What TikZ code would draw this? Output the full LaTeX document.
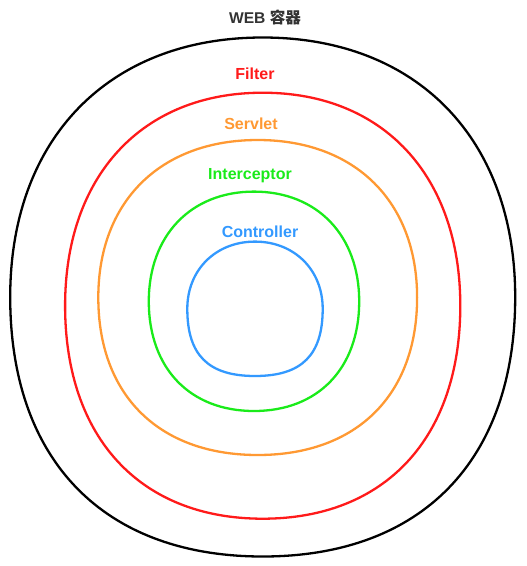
\documentclass[tikz,border=0pt]{standalone}
\usepackage{fontspec}
\setmainfont{Liberation Sans}
\newfontfamily\cjk{Noto Sans CJK SC}
\usepackage{tikz}

\definecolor{webgray}{HTML}{333333}
\definecolor{filterred}{HTML}{FF1A1A}
\definecolor{servletorange}{HTML}{FF9933}
\definecolor{interceptorgreen}{HTML}{1AEB1A}
\definecolor{controllerblue}{HTML}{3399FF}

% layer ring: style, centre x, centre y, half width, half height,
% control factor of the lower half, control factor of the upper half
\newcommand{\layer}[7]{%
  \draw[#1] ({#2+#4},{#3})
    .. controls ({#2+#4},{#3+#6*#5}) and ({#2+#6*#4},{#3+#5}) .. ({#2},{#3+#5})
    .. controls ({#2-#6*#4},{#3+#5}) and ({#2-#4},{#3+#6*#5}) .. ({#2-#4},{#3})
    .. controls ({#2-#4},{#3-#7*#5}) and ({#2-#7*#4},{#3-#5}) .. ({#2},{#3-#5})
    .. controls ({#2+#7*#4},{#3-#5}) and ({#2+#4},{#3-#7*#5}) .. cycle;}

\begin{document}
\begin{tikzpicture}[x=1pt,y=-1pt,line width=2.3pt,line join=round]
  \tikzstyle{lbl}=[font=\fontsize{16}{19}\selectfont\bfseries,inner sep=0pt,
    text height=11.5pt,text depth=0pt]
  \useasboundingbox (0,0) rectangle (527,566);

  \layer{black}{262.7}{297}{252.5}{259.5}{0.63}{0.61}
  \layer{filterred}{262.7}{305.7}{197.6}{213}{0.62}{0.61}
  \layer{servletorange}{257.7}{297.5}{159.4}{157.5}{0.62}{0.61}
  \layer{interceptorgreen}{254}{301.3}{105.2}{109.7}{0.61}{0.6}
  \layer{controllerblue}{255}{308.8}{67.7}{67.2}{0.69}{0.58}

  \node[lbl,text=webgray,font=\fontsize{15.6}{18}\selectfont\bfseries] (web) at (265,18) {WEB {\cjk 容器}};
  \node[lbl,text=filterred] (filter) at (255,74) {Filter};
  \node[lbl,text=servletorange] (servlet) at (251,124.2) {Servlet};
  \node[lbl,text=interceptorgreen] (interceptor) at (250,174.2) {Interceptor};
  \node[lbl,text=controllerblue] (controller) at (260,231.5) {Controller};

\end{tikzpicture}
\end{document}
